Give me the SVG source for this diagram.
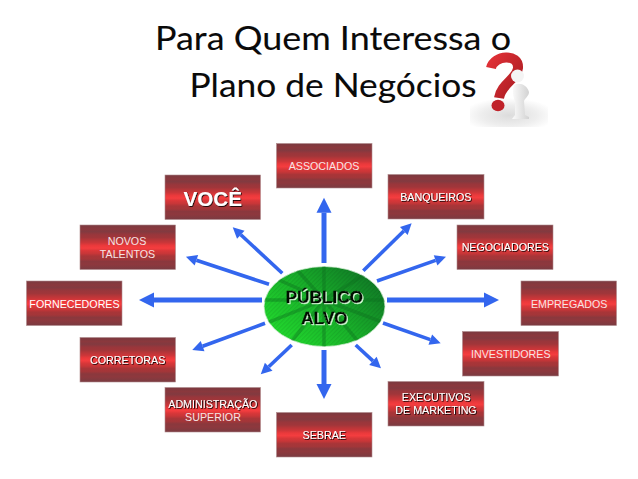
<svg xmlns="http://www.w3.org/2000/svg" width="638" height="479" viewBox="0 0 638 479">
<style>
.box{fill:url(#band);stroke:#b08a8c;stroke-width:.6}
.t{font-family:"Liberation Sans",Arial,sans-serif;font-size:10.7px;fill:#fff;text-anchor:middle}
.sh{filter:url(#ds)}
.pale{fill:#f6e4e4}
.title{font-family:Lato,"Open Sans",sans-serif;font-size:33.5px;fill:#0a0a0a;stroke:#0a0a0a;stroke-width:.1;text-anchor:middle}
.hub{font-family:"Liberation Sans",Arial,sans-serif;font-size:17.2px;font-weight:bold;fill:#050a05;stroke:#050a05;stroke-width:.35;text-anchor:middle;filter:url(#glow)}
.big{stroke:#3366ee;stroke-width:5;fill:none;marker-end:url(#ah)}
.small{stroke:#3366ee;stroke-width:3.6;fill:none;marker-end:url(#as)}
.sp{stroke:#0d6d1e;stroke-opacity:.4;stroke-width:3.5;fill:none}
</style>
<defs>
<linearGradient id="band" x1="0" y1="0" x2="0" y2="1">
<stop offset="0" stop-color="#7a3a40"/><stop offset=".09" stop-color="#8a383d"/><stop offset=".15" stop-color="#823a40"/><stop offset=".22" stop-color="#9a363b"/><stop offset=".28" stop-color="#a0363a"/><stop offset=".34" stop-color="#b83639"/><stop offset=".40" stop-color="#cc3639"/><stop offset=".46" stop-color="#ea393b"/><stop offset=".52" stop-color="#f43d3f"/><stop offset=".58" stop-color="#d83739"/><stop offset=".64" stop-color="#c83638"/><stop offset=".70" stop-color="#a83538"/><stop offset=".76" stop-color="#a43639"/><stop offset=".82" stop-color="#8a383d"/><stop offset=".88" stop-color="#8e383d"/><stop offset="1" stop-color="#7a3b41"/>
</linearGradient>
<linearGradient id="green" x1=".05" y1=".85" x2=".95" y2=".2">
<stop offset="0" stop-color="#22dc2e"/><stop offset=".5" stop-color="#19b22a"/><stop offset="1" stop-color="#107a26"/>
</linearGradient>
<pattern id="hatch" width="3" height="3" patternUnits="userSpaceOnUse" patternTransform="rotate(-45)">
<rect width="3" height="1.2" fill="#000" fill-opacity=".08"/>
</pattern>
<clipPath id="hc"><ellipse cx="324.5" cy="306.5" rx="60.5" ry="40"/></clipPath>
<radialGradient id="floor" cx=".5" cy=".6" r=".6">
<stop offset="0" stop-color="#dcdcdc"/><stop offset=".6" stop-color="#eeeeee"/><stop offset="1" stop-color="#fff"/>
</radialGradient>
<linearGradient id="man" x1="0" y1="0" x2="1" y2="0">
<stop offset="0" stop-color="#fbfbfb"/><stop offset="1" stop-color="#d2d2d2"/>
</linearGradient>
<linearGradient id="qm" x1="0" y1="0" x2="1" y2="1">
<stop offset="0" stop-color="#e03036"/><stop offset="1" stop-color="#a81c22"/>
</linearGradient>
<marker id="ah" markerUnits="userSpaceOnUse" markerWidth="17" markerHeight="17" refX="1" refY="8.5" orient="auto" overflow="visible"><path d="M1,1V16L16,8.5Z" fill="#3366ee"/></marker>
<marker id="as" markerUnits="userSpaceOnUse" markerWidth="13" markerHeight="13" refX="1" refY="6.5" orient="auto" overflow="visible"><path d="M1,1V12L12,6.5Z" fill="#3366ee"/></marker>
<filter id="ds" x="-10%" y="-30%" width="120%" height="160%"><feDropShadow dx=".8" dy=".8" stdDeviation=".25" flood-color="#000" flood-opacity="1"/></filter>
<filter id="glow" x="-10%" y="-30%" width="120%" height="160%"><feDropShadow dx="1" dy="1" stdDeviation=".25" flood-color="#d8ffd8" flood-opacity="1"/></filter>
</defs>

<rect width="638" height="479" fill="#fff"/>

<g id="title">
<text class="title" x="333" y="50" textLength="356" lengthAdjust="spacingAndGlyphs">Para Quem Interessa o</text>
<text class="title" x="333" y="97" textLength="287" lengthAdjust="spacingAndGlyphs">Plano de Negócios</text>
</g>

<g id="illustration">
<rect x="470" y="98" width="78" height="29" fill="url(#floor)"/>
<path d="M491,68C494,55 519,53 518,68C517,79 501,84 499,98" fill="none" stroke="url(#qm)" stroke-width="10"/>
<ellipse cx="498" cy="105.5" rx="6.5" ry="5.8" fill="#c0222a"/>
<circle cx="517.5" cy="76" r="6.5" fill="#f4f4f4"/>
<path d="M514,85C520,82 527,85 529,92C529,96 525,98 524,101L525,115L529,117V119H512L515,115L515,102C513,96 512,90 514,85Z" fill="url(#man)"/>
</g>

<g id="connectors">
<path class="big" d="M324,263V212.7"/>
<path class="big" d="M324,350V384"/>
<path class="big" d="M262,300H154"/>
<path class="big" d="M387,300H484"/>
<path class="small" d="M363.3,270.7L403.8,231"/>
<path class="small" d="M377,281L435.6,260.4"/>
<path class="small" d="M383,323L430.3,339.6"/>
<path class="small" d="M355.7,345L372.9,360.9"/>
<path class="small" d="M291.7,345L268.7,366.8"/>
<path class="small" d="M265,323.3L202.6,346.2"/>
<path class="small" d="M269,284.3L196.4,260.2"/>
<path class="small" d="M282.3,273.3L240.8,234.8"/>
</g>

<g id="publico-alvo">
<ellipse cx="324.5" cy="306.5" rx="60.5" ry="40" fill="url(#green)" stroke="#d8f0d8" stroke-width=".8"/>
<g clip-path="url(#hc)">
<ellipse cx="324.5" cy="306.5" rx="60.5" ry="40" fill="url(#hatch)"/>
<path class="sp" d="M324,260V350M260,300H390M324,300L380,265M324,300L390,325M324,300L262,325M324,300L270,276M324,300L285,350M324,300L365,350M324,300L290,262"/>
</g>
<text class="hub" x="324.5" y="303">PÚBLICO</text>
<text class="hub" x="324.5" y="323.5">ALVO</text>
</g>

<g id="associados"><rect class="box" x="276.5" y="143.5" width="95.5" height="44.5"/><text class="t pale" x="324" y="170">ASSOCIADOS</text></g>
<g id="voce"><rect class="box" x="165" y="175" width="95.5" height="44.5"/><text class="t sh" x="212.8" y="206" style="font-size:20.6px;font-weight:bold">VOCÊ</text></g>
<g id="novos-talentos"><rect class="box" x="80" y="225" width="95.5" height="44.5"/><text class="t pale" x="127" y="245">NOVOS</text><text class="t pale" x="127.5" y="258">TALENTOS</text></g>
<g id="fornecedores"><rect class="box" x="26.5" y="281" width="95.5" height="44.5"/><text class="t" x="74.5" y="308">FORNECEDORES</text></g>
<g id="corretoras"><rect class="box" x="80" y="337.5" width="95.5" height="44.5"/><text class="t sh" x="127.7" y="364">CORRETORAS</text></g>
<g id="administracao"><rect class="box" x="165" y="387.5" width="95.5" height="44.5"/><text class="t sh" x="212.8" y="408">ADMINISTRAÇÃO</text><text class="t pale" x="213" y="421">SUPERIOR</text></g>
<g id="sebrae"><rect class="box" x="276.5" y="412.5" width="95.5" height="44.5"/><text class="t sh" x="324.3" y="439">SEBRAE</text></g>
<g id="executivos"><rect class="box" x="388" y="381.5" width="96" height="44.5"/><text class="t sh" x="436.3" y="401.3">EXECUTIVOS</text><text class="t sh" x="436" y="414.3">DE MARKETING</text></g>
<g id="investidores"><rect class="box" x="462.5" y="331.5" width="96" height="44.5"/><text class="t pale" x="510.8" y="358">INVESTIDORES</text></g>
<g id="empregados"><rect class="box" x="521" y="281" width="95.5" height="44.5"/><text class="t pale" x="569.2" y="308">EMPREGADOS</text></g>
<g id="negociadores"><rect class="box" x="457" y="225" width="96" height="44.5"/><text class="t sh" x="505.3" y="251">NEGOCIADORES</text></g>
<g id="banqueiros"><rect class="box" x="388" y="174.5" width="96" height="44.5"/><text class="t sh" x="435.8" y="201">BANQUEIROS</text></g>
</svg>
